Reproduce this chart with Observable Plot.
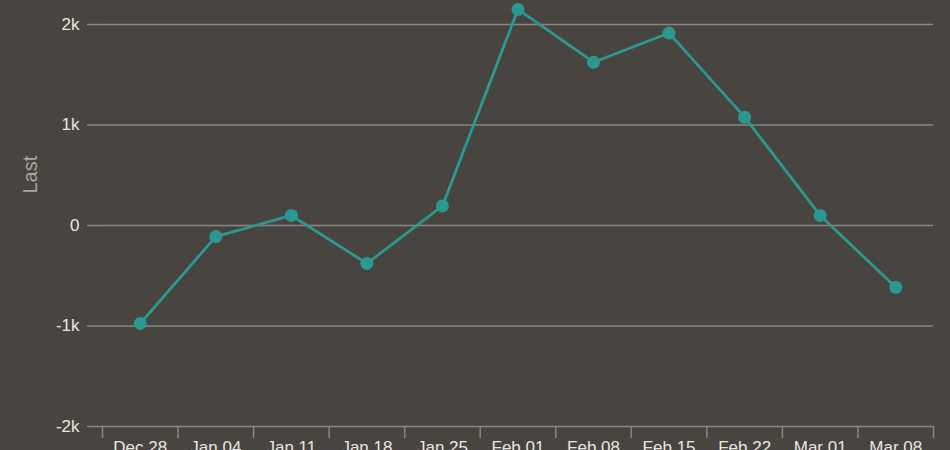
<!DOCTYPE html>
<html>
<head>
<meta charset="utf-8">
<script src="https://cdn.jsdelivr.net/npm/d3@7"></script>
<script src="https://cdn.jsdelivr.net/npm/@observablehq/plot@0.6"></script>
<style>
  html, body { margin: 0; padding: 0; background: #48443f; }
  #chart { width: 950px; height: 450px; overflow: hidden; }
</style>
</head>
<body>
<div id="chart"></div>
<script>
const labels = ["Dec 28", "Jan 04", "Jan 11", "Jan 18", "Jan 25", "Feb 01", "Feb 08", "Feb 15", "Feb 22", "Mar 01", "Mar 08"];
const dates = ["2014-12-28", "2015-01-04", "2015-01-11", "2015-01-18", "2015-01-25", "2015-02-01", "2015-02-08", "2015-02-15", "2015-02-22", "2015-03-01", "2015-03-08"];
const values = [-975, -110, 100, -378, 195, 2150, 1625, 1915, 1078, 100, -615];
const yTicks = [-2000, -1000, 0, 1000, 2000];
const yTickLabels = ["-2k", "-1k", "0", "1k", "2k"];

const day = 864e5;
const parsed = dates.map(d => new Date(d + "T00:00:00Z"));
const data = parsed.map((d, i) => ({date: d, label: labels[i], value: values[i]}));
const half = 3.5 * day;
const boundaries = parsed.map(d => new Date(+d - half)).concat([new Date(+parsed[parsed.length - 1] + half)]);
const labelOf = new Map(parsed.map((d, i) => [+d, labels[i]]));

const bg = "#48443f";
const gridColor = "#8a8683";
const teal = "#2b9892";
const font = "'Liberation Sans', Arial, sans-serif";

const chart = Plot.plot({
  width: 950,
  height: 450,
  marginLeft: 102,
  marginRight: 17,
  marginTop: 0,
  marginBottom: 24,
  style: {background: bg, color: "#e8e6e3", fontFamily: font, fontSize: "17px", overflow: "visible"},
  x: {type: "utc", domain: [boundaries[0], boundaries[boundaries.length - 1]]},
  y: {domain: [-2000, 2239]},
  marks: [
    Plot.gridY(yTicks, {stroke: gridColor, strokeOpacity: 1, strokeWidth: 1.5}),
    Plot.axisY(yTicks, {tickSize: 15, tickPadding: 8, stroke: gridColor, strokeWidth: 1.5, fill: "#e8e6e3", fontSize: 17,
      tickFormat: v => yTickLabels[yTicks.indexOf(v)], label: null}),
    Plot.axisX(boundaries, {tickSize: 12, stroke: gridColor, strokeWidth: 1.5, tickFormat: () => "", label: null}),
    Plot.axisX(parsed, {tickSize: 0, tickPadding: 14, fill: "#e8e6e3", fontSize: 17, tickFormat: d => labelOf.get(+d), label: null}),
    Plot.text(["Last"], {frameAnchor: "left", rotate: -90, dx: -72, dy: -20, fill: "#a9a5a1", fontSize: 20}),
    Plot.line(data, {x: "date", y: "value", stroke: teal, strokeWidth: 2.8}),
    Plot.dot(data, {x: "date", y: "value", r: 6.5, fill: teal, stroke: null})
  ]
});
document.getElementById("chart").appendChild(chart);
</script>
</body>
</html>
